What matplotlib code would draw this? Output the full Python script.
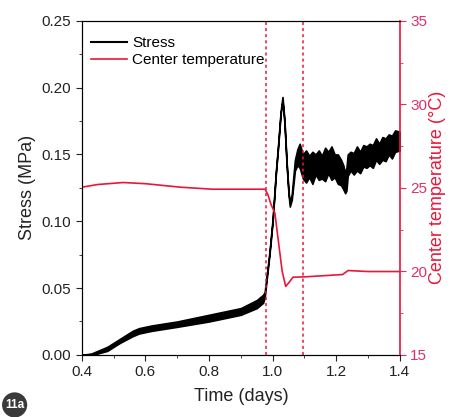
import numpy as np
import matplotlib
matplotlib.use("Agg")
import matplotlib.pyplot as plt

plt.rcParams['font.family'] = ['Liberation Sans', 'DejaVu Sans']

# stress (MPa): time and lower / upper envelope of the noisy trace
stress_t = [0.40, 0.43, 0.45, 0.48, 0.52, 0.56, 0.58, 0.62, 0.70, 0.80, 0.90, 0.95, 0.97,
            0.975, 0.990, 1.000, 1.010, 1.017, 1.025, 1.031, 1.037, 1.044, 1.050, 1.054,
            1.060, 1.070, 1.078, 1.085,
            1.095, 1.105, 1.115, 1.125, 1.135, 1.145, 1.155, 1.165, 1.175, 1.185, 1.195,
            1.205, 1.215, 1.222, 1.228, 1.232, 1.236, 1.245, 1.255, 1.265, 1.275, 1.285,
            1.295, 1.305, 1.315, 1.325, 1.335, 1.345, 1.355, 1.365, 1.375, 1.385, 1.40]
stress_lo = [0.000, 0.000, 0.001, 0.003, 0.009, 0.014, 0.016, 0.018, 0.021, 0.025, 0.030, 0.035, 0.039,
             0.043, 0.075, 0.100, 0.135, 0.155, 0.180, 0.190, 0.174, 0.142, 0.120, 0.111,
             0.116, 0.138, 0.142, 0.140,
             0.132, 0.129, 0.133, 0.128, 0.135, 0.131, 0.132, 0.130, 0.136, 0.131, 0.133,
             0.128, 0.127, 0.124, 0.121, 0.123, 0.134, 0.138, 0.135, 0.138, 0.136, 0.141,
             0.140, 0.142, 0.140, 0.146, 0.143, 0.146, 0.145, 0.150, 0.147, 0.152, 0.153]
stress_hi = [0.000, 0.001, 0.003, 0.006, 0.012, 0.018, 0.020, 0.022, 0.025, 0.030, 0.035, 0.041, 0.045,
             0.047, 0.077, 0.102, 0.137, 0.157, 0.182, 0.193, 0.176, 0.144, 0.122, 0.114,
             0.120, 0.146, 0.154, 0.158,
             0.150, 0.153, 0.149, 0.152, 0.150, 0.153, 0.149, 0.155, 0.152, 0.156, 0.150,
             0.150, 0.146, 0.142, 0.136, 0.140, 0.150, 0.152, 0.151, 0.156, 0.152, 0.157,
             0.156, 0.158, 0.157, 0.162, 0.158, 0.163, 0.162, 0.165, 0.164, 0.168, 0.167]

# center temperature (°C)
temp_t = [0.40, 0.45, 0.53, 0.60, 0.71, 0.81, 0.976, 0.985, 0.995, 1.007, 1.02, 1.03, 1.041,
          1.05, 1.064, 1.10, 1.22, 1.237, 1.30, 1.40]
temp = [25.04, 25.2, 25.32, 25.25, 25.04, 24.92, 24.92, 24.6, 24.0, 23.5, 21.5, 20.0, 19.1,
        19.3, 19.65, 19.67, 19.81, 20.05, 19.99, 19.99]

# dashed markers (days)
vlines = [0.978, 1.095]

red = '#e8173a'
pink = '#e0306a'

fig = plt.figure(figsize=(4.57, 4.17), dpi=100)
ax = fig.add_axes([0.179, 0.149, 0.696, 0.801])
ax2 = ax.twinx()

ax.fill_between(stress_t, stress_lo, stress_hi, color='black', lw=1.2, zorder=3)
ax.plot([], [], color='black', lw=1.5, label='Stress')
ax2.plot(temp_t, temp, color=red, lw=1.2, zorder=2)
ax.plot([], [], color=red, lw=1.2, label='Center temperature')
for v in vlines:
    ax.axvline(v, color=red, lw=1.1, ls=(0, (2, 2)), zorder=4)

ax.set_xlim(0.4, 1.4)
ax.set_ylim(0, 0.25)
ax2.set_ylim(15, 35)
ax.set_xticks(np.arange(0.4, 1.41, 0.2))
ax.set_xticks(np.arange(0.5, 1.41, 0.2), minor=True)
ax.set_yticks(np.arange(0, 0.251, 0.05))
ax.set_yticks(np.arange(0.025, 0.25, 0.05), minor=True)
ax2.set_yticks([15, 20, 25, 30, 35])
ax2.set_yticks([17.5, 22.5, 27.5, 32.5], minor=True)

ax.set_xticklabels([f'{v:.1f}' for v in np.arange(0.4, 1.41, 0.2)])
ax.set_yticklabels([f'{v:.2f}' for v in np.arange(0, 0.251, 0.05)])

ax.tick_params(which='major', direction='out', length=4, labelsize=11, colors='#222222')
ax.tick_params(which='minor', direction='out', length=2.5, colors='#222222')
ax2.tick_params(which='major', direction='out', length=4, labelsize=11, colors=pink)
ax2.tick_params(which='minor', direction='out', length=2.5, colors=pink)

for s in ['left', 'bottom', 'top']:
    ax.spines[s].set_color('#222222')
ax2.spines['right'].set_color(red)
ax2.spines['right'].set_linewidth(1.2)
ax.spines['right'].set_visible(False)

ax.set_xlabel('Time (days)', fontsize=13, color='#222222', labelpad=6)
ax.set_ylabel('Stress (MPa)', fontsize=13, color='#222222', labelpad=4)
ax2.set_ylabel('Center temperature (°C)', fontsize=13, color=red, labelpad=1)

ax.legend(loc='upper left', frameon=False, fontsize=11, handlelength=2.4,
          handletextpad=0.3, labelspacing=0.2, borderaxespad=0.6,
          bbox_to_anchor=(-0.02, 1.0))

fig.text(0.032, 0.029, '11a', fontsize=8.5, color='white', ha='center', va='center',
         fontweight='bold',
         bbox=dict(boxstyle='circle,pad=0.25', fc='#3a3a3a', ec='none'))

fig.savefig('out.png', dpi=100)
